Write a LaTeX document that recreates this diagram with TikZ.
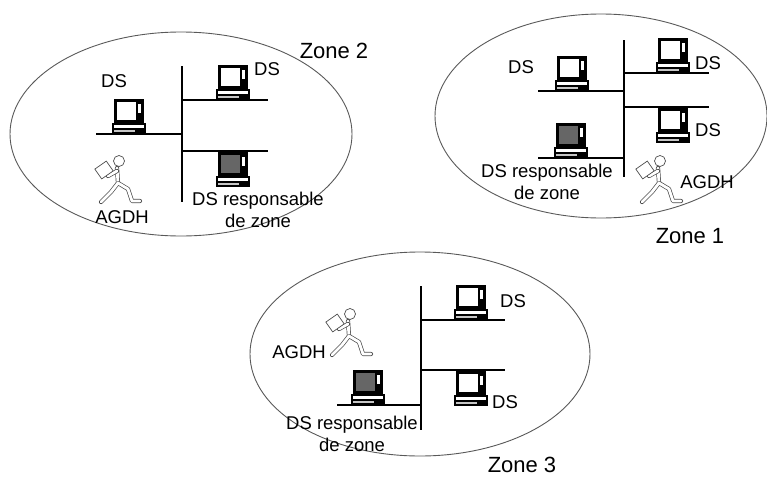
\documentclass[tikz,border=0pt]{standalone}
\usepackage{fontspec}
\setmainfont{Liberation Sans}
\usetikzlibrary{shapes.geometric}

% small workstation icon, origin at the bottom centre of its base
\tikzset{
  pics/laptop/.style={code={
    \fill[black] (-15,-35) rectangle (15,-11);
    \fill[#1] (-12,-32) rectangle (7,-14);
    \fill[white] (9,-30) rectangle (12,-21);
    \fill[black] (-17,-11) rectangle (17,0);
    \fill[white] (-15,-9) rectangle (15,-6);
    \fill[gray!45] (-15,-4) rectangle (6,-2);
  }},
  pics/laptop/.default=white,
  limb/.style={draw=black!70, double=white, double distance=2.8pt, line width=0.7pt, line cap=round, line join=round},
  % agent carrying a parcel, origin at its middle
  pics/porter/.style={code={
    \draw[limb] (0,3) -- (-1,-12);
    \draw[limb] (-17,22) -- (-7,12) -- (0,3) -- (10,9) -- (14,21) -- (22,21);
    \draw[limb] (-1,-9) -- (-10,-4);
    \draw[black!70, fill=white, line width=0.7pt, rotate around={35:(-14,-10)}] (-21,-16) rectangle (-7,-4);
    \draw[black!70, fill=white, line width=0.7pt] (1,-19) circle (5.5pt);
  }}
}

\begin{document}
\begin{tikzpicture}[
    x=1pt, y=-1pt,
    zone/.style={ellipse, draw=black!65, line width=0.9pt, inner sep=0pt},
    bus/.style={draw=black, line width=1.3pt},
    lbl/.style={font=\fontsize{18.5}{22}\selectfont, inner sep=0pt, align=center},
    zonelbl/.style={font=\fontsize{22}{26}\selectfont, inner sep=0pt},
]
\useasboundingbox (0,0) rectangle (767,479);

% Zone 2
\node[zone, minimum width=342pt, minimum height=204pt] (zone2) at (181,134) {};
\node[zonelbl] (z2name) at (334,51) {Zone 2};
\coordinate (z2top) at (182,66);
\coordinate (z2bot) at (182,202);
\coordinate (z2w) at (96,134);
\coordinate (z2wj) at (182,134);
\coordinate (z2ne) at (268,100);
\coordinate (z2nej) at (182,100);
\coordinate (z2se) at (268,151);
\coordinate (z2sej) at (182,151);
\draw[bus] (z2top) -- (z2bot);
\draw[bus] (z2w) -- (z2wj);
\draw[bus] (z2nej) -- (z2ne);
\draw[bus] (z2sej) -- (z2se);
\pic at (129,134) {laptop};
\pic at (233,100) {laptop};
\pic at (233,187) {laptop=black!60};
\pic at (118,180) {porter};
\node[lbl] (z2ds1) at (114,81) {DS};
\node[lbl] (z2ds2) at (267,69) {DS};
\node[lbl] (z2resp) at (258,210) {DS responsable\\de zone};
\node[lbl] (z2agdh) at (122,217) {AGDH};

% Zone 1
\node[zone, minimum width=332pt, minimum height=204pt] (zone1) at (601,116) {};
\node[zonelbl] (z1name) at (690,236) {Zone 1};
\coordinate (z1top) at (624,40);
\coordinate (z1bot) at (624,177);
\coordinate (z1nw) at (538,91);
\coordinate (z1nwj) at (624,91);
\coordinate (z1ne) at (709,73);
\coordinate (z1nej) at (624,73);
\coordinate (z1e) at (709,107);
\coordinate (z1ej) at (624,107);
\coordinate (z1sw) at (538,158);
\coordinate (z1swj) at (624,158);
\draw[bus] (z1top) -- (z1bot);
\draw[bus] (z1nw) -- (z1nwj);
\draw[bus] (z1nej) -- (z1ne);
\draw[bus] (z1ej) -- (z1e);
\draw[bus] (z1sw) -- (z1swj);
\pic at (572,91) {laptop};
\pic at (673,73) {laptop};
\pic at (673,143) {laptop};
\pic at (571,158) {laptop=black!60};
\pic at (659,180) {porter};
\node[lbl] (z1ds1) at (521,67) {DS};
\node[lbl] (z1ds2) at (708,63) {DS};
\node[lbl] (z1ds3) at (708,130) {DS};
\node[lbl] (z1resp) at (547,182) {DS responsable\\de zone};
\node[lbl] (z1agdh) at (707,182) {AGDH};

% Zone 3
\node[zone, minimum width=340pt, minimum height=204pt] (zone3) at (420,354) {};
\node[zonelbl] (z3name) at (522,465) {Zone 3};
\coordinate (z3top) at (421,286);
\coordinate (z3bot) at (421,430);
\coordinate (z3ne) at (505,320);
\coordinate (z3nej) at (421,320);
\coordinate (z3e) at (505,370);
\coordinate (z3ej) at (421,370);
\coordinate (z3sw) at (337,405);
\coordinate (z3swj) at (421,405);
\draw[bus] (z3top) -- (z3bot);
\draw[bus] (z3nej) -- (z3ne);
\draw[bus] (z3ej) -- (z3e);
\draw[bus] (z3sw) -- (z3swj);
\pic at (471,320) {laptop};
\pic at (471,406) {laptop};
\pic at (368,405) {laptop=black!60};
\pic at (349,333) {porter};
\node[lbl] (z3ds1) at (513,301) {DS};
\node[lbl] (z3ds2) at (505,402) {DS};
\node[lbl] (z3resp) at (352,434) {DS responsable\\de zone};
\node[lbl] (z3agdh) at (299,352) {AGDH};

\end{tikzpicture}
\end{document}
